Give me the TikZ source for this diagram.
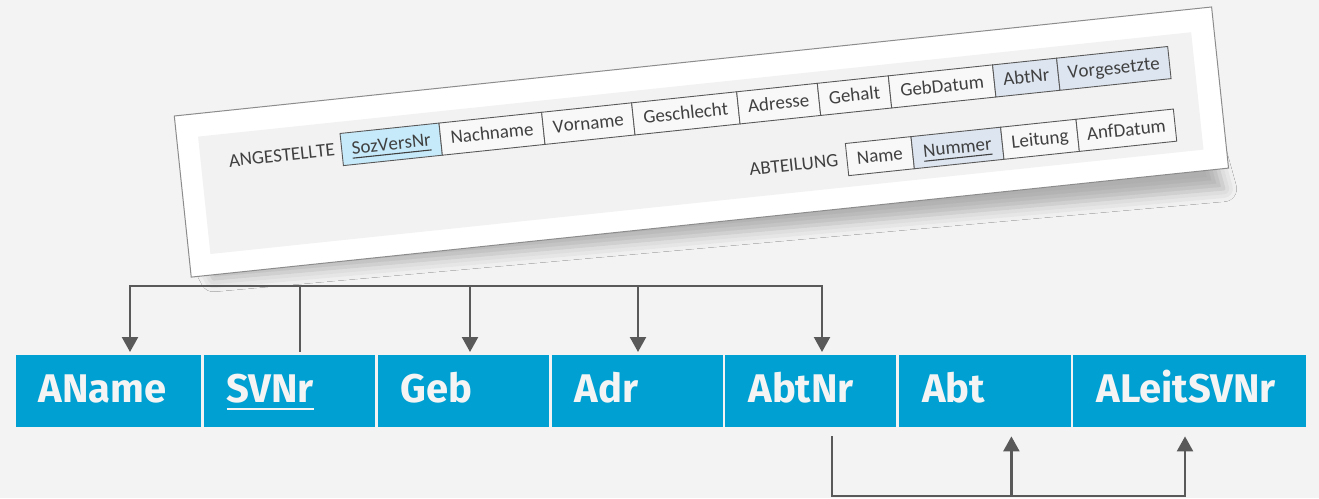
\documentclass[tikz,border=0pt]{standalone}
\usepackage{fontspec}
\usetikzlibrary{arrows.meta,calc,shadows.blur,decorations.text}
\newfontfamily\boxfont{Fira Sans}
\newfontfamily\cardfont{Carlito}
\definecolor{bg}{HTML}{F3F3F3}
\definecolor{boxblue}{HTML}{00A0D2}
\definecolor{boxtext}{HTML}{F4F4F4}
\definecolor{conncol}{HTML}{595959}
\definecolor{cardtext}{HTML}{404040}
\definecolor{cardedge}{HTML}{8C8C8C}
\definecolor{panel}{HTML}{F2F2F2}
\definecolor{pkfill}{HTML}{C6EAF9}
\definecolor{fkfill}{HTML}{DDE5F0}
\definecolor{cellfill}{HTML}{F8F8F8}
% underline with given depth and thickness
\newcommand{\keyline}[3]{\sbox0{#3}\rlap{\rule[-#1]{\wd0}{#2}}\usebox0}
% a card word set on its tilted baseline, starting at (#1,#2)
\newcommand{\tiltword}[3]{%
  \pgfmathsetmacro{\upath}{#1+300}%
  \path[cardword=#3] (#1,#2) -- (\upath,#2);}
\tikzset{
  rel/.style={fill=boxblue, anchor=north west, minimum height=72pt,
    inner xsep=23pt, inner ysep=0pt, align=left, text=boxtext,
    font=\boxfont\bfseries\fontsize{40}{48}\selectfont,
    text height=27.4pt, text depth=4pt},
  conn/.style={draw=conncol, line width=2.3pt,
    >={Triangle[width=16pt,length=15pt]}},
  cell/.style={draw=conncol, line width=0.9pt, fill=cellfill, anchor=north west,
    minimum height=32.3pt, inner sep=0pt, outer sep=0pt, rotate=6},
  cardword/.style={decorate, decoration={text along path, text color=cardtext,
    text align=left, text={|\cardfont\fontsize{19}{22}\selectfont|#1}}},
  keyrule/.style={draw=cardtext, line width=1.1pt},
}
\begin{document}
\begin{tikzpicture}[x=1pt, y=-1pt]
  \useasboundingbox (0,0) rectangle (1319,498);
  \fill[bg] (0,0) rectangle (1319,498);

  % tilted card with the source schema
  \begin{scope}[shift={(174.3,116)}, rotate=6]
    \path[blur shadow={shadow xshift=0pt, shadow yshift=0pt,
        shadow blur radius=13pt, shadow opacity=28}]
      (14,146) -- (1030,146) -- (1036,182) -- (22,166) -- cycle;
    \filldraw[fill=white, draw=cardedge, line width=1pt] (0,0) rectangle (1043,162);
    \fill[panel] (21.5,23) rectangle (1020,141);

    % ANGESTELLTE
    \node[cell, fill=pkfill, minimum width=99.5pt] (c1) at (163,34.7) {};
    \node[cell, minimum width=103.2pt] (c2) at (c1.north east) {};
    \node[cell, minimum width=90.5pt] (c3) at (c2.north east) {};
    \node[cell, minimum width=105.6pt] (c4) at (c3.north east) {};
    \node[cell, minimum width=81.1pt] (c5) at (c4.north east) {};
    \node[cell, minimum width=71.4pt] (c6) at (c5.north east) {};
    \node[cell, minimum width=104.8pt] (c7) at (c6.north east) {};
    \node[cell, fill=fkfill, minimum width=64.4pt] (c8) at (c7.north east) {};
    \node[cell, fill=fkfill, minimum width=111.7pt] (c9) at (c8.north east) {};
    \tiltword{173.05}{56.6}{SozVersNr}
    \draw[keyrule] (173.05,60.6) -- (252.45,60.6);
    \tiltword{272.55}{56.6}{Nachname}
    \tiltword{375.4}{56.6}{Vorname}
    \tiltword{466.45}{56.6}{Geschlecht}
    \tiltword{571.65}{56.6}{Adresse}
    \tiltword{653}{56.6}{Gehalt}
    \tiltword{724.85}{56.6}{GebDatum}
    \tiltword{828.2}{56.6}{AbtNr}
    \tiltword{893.15}{56.6}{Vorgesetzte}
    \tiltword{49.6}{56.6}{ANGESTELLTE}

    % ABTEILUNG
    \node[cell, minimum width=66pt] (d1) at (664.5,97.5) {};
    \node[cell, fill=fkfill, minimum width=90.1pt] (d2) at (d1.north east) {};
    \node[cell, minimum width=75.8pt] (d3) at (d2.north east) {};
    \node[cell, minimum width=97.9pt] (d4) at (d3.north east) {};
    \tiltword{674.5}{119.4}{Name}
    \tiltword{741.2}{119.4}{Nummer}
    \draw[keyrule] (741.2,123.4) -- (809.9,123.4);
    \tiltword{829.95}{119.4}{Leitung}
    \tiltword{905.8}{119.4}{AnfDatum}
    \tiltword{566.4}{119.4}{ABTEILUNG}
  \end{scope}

  % target relation
  \node[rel, text width=139.2pt] (aname) at (15.6,355) {AName};
  \node[rel, text width=125.3pt] (svnr)  at (203.3,355) {\keyline{7.3pt}{2.2pt}{SVNr}};
  \node[rel, text width=125pt]   (geb)   at (377.5,355) {Geb};
  \node[rel, text width=125pt]   (adr)   at (551.3,355) {Adr};
  \node[rel, text width=125pt]   (abtnr) at (725.2,355) {AbtNr};
  \node[rel, text width=125.5pt] (abt)   at (898.8,355) {Abt};
  \node[rel, text width=186.8pt] (aleit) at (1073.2,355) {ALeitSVNr};

  % upper connectors
  \coordinate (p1) at (130,286);
  \coordinate (p2) at (300,286);
  \coordinate (p3) at (470,286);
  \coordinate (p4) at (638,286);
  \coordinate (p5) at (822,286);
  \draw[conn, <->, shorten <=3pt, shorten >=3pt]
    (p1 |- aname.north) -- (p1) -- (p5) -- (p5 |- abtnr.north);
  \draw[conn, shorten >=3pt] (p2) -- (p2 |- svnr.north);
  \draw[conn, ->, shorten >=3pt] (p3) -- (p3 |- geb.north);
  \draw[conn, ->, shorten >=3pt] (p4) -- (p4 |- adr.north);

  % lower connectors
  \coordinate (q1) at (832,496);
  \coordinate (q2) at (1011.4,496);
  \coordinate (q3) at (1185,496);
  \draw[conn, ->, shorten <=9pt, shorten >=9pt]
    (q1 |- abtnr.south) -- (q1) -- (q3) -- (q3 |- aleit.south);
  \draw[conn, ->, shorten >=9pt] (q2) -- (q2 |- abt.south);
\end{tikzpicture}
\end{document}
